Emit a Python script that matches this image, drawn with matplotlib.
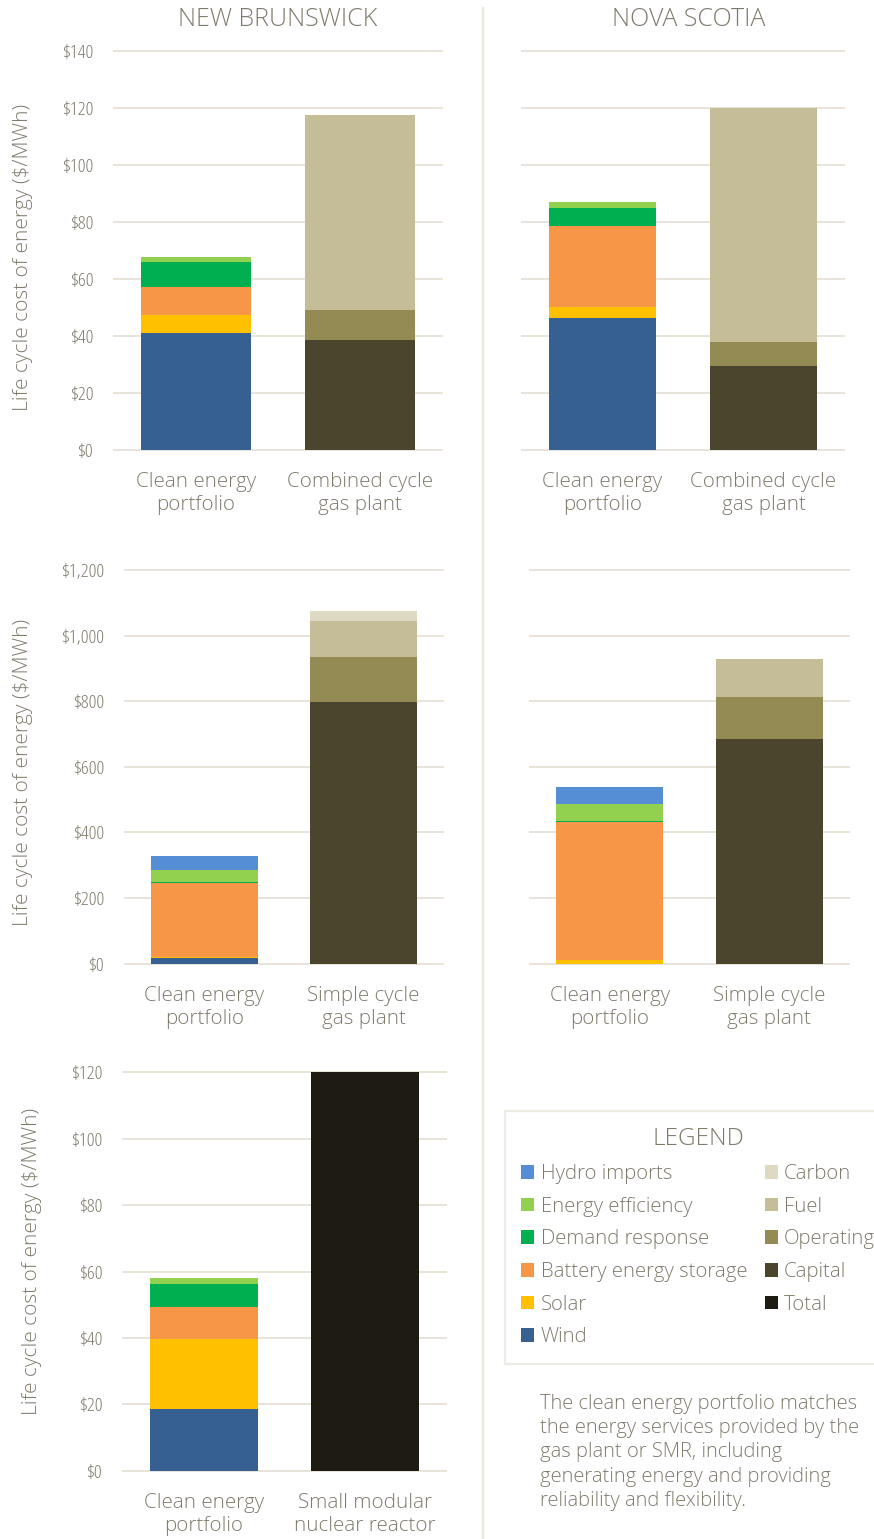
import matplotlib
matplotlib.use("Agg")
import matplotlib.pyplot as plt
from matplotlib.patches import Patch
from matplotlib.lines import Line2D

W, H = 874, 1539
plt.rcParams["font.family"] = ["Open Sans", "DejaVu Sans"]
plt.rcParams["font.weight"] = "light"

TEXT = "#7f7a6c"
GRID = "#e8e4da"

# Stack order, bottom to top
CLEAN_PARTS = ["Wind", "Solar", "Battery energy storage", "Demand response",
               "Energy efficiency", "Hydro imports"]
GAS_PARTS = ["Capital", "Operating", "Fuel", "Carbon"]

COLORS = {
    "Hydro imports": "#558ed5",
    "Energy efficiency": "#92d050",
    "Demand response": "#00b050",
    "Battery energy storage": "#f79646",
    "Solar": "#ffc000",
    "Wind": "#366092",
    "Carbon": "#ddd9c3",
    "Fuel": "#c4bd97",
    "Operating": "#948a54",
    "Capital": "#4a452c",
    "Total": "#1e1b12",
}

# Life cycle cost components, $/MWh (order as in CLEAN_PARTS / GAS_PARTS)
nb_cc_clean = [41.1, 6.2, 9.9, 8.7, 1.8, 0.0]
nb_cc_gas = [38.6, 10.5, 68.4, 0.0]
ns_cc_clean = [46.4, 3.8, 28.5, 6.3, 1.8, 0.0]
ns_cc_gas = [29.5, 8.4, 82.1, 0.0]
nb_sc_clean = [18, 2, 225, 4, 37, 42]
nb_sc_gas = [798, 137, 110, 30]
ns_sc_clean = [0, 12, 419, 4, 53, 52]
ns_sc_gas = [686, 128, 116, 0]
nb_smr_clean = [18.6, 21.1, 9.6, 7.0, 1.8, 0.0]
nb_smr_total = [120.0]

cc_labels = ["Clean energy\nportfolio", "Combined cycle\ngas plant"]
sc_labels = ["Clean energy\nportfolio", "Simple cycle\ngas plant"]
smr_labels = ["Clean energy\nportfolio", "Small modular\nnuclear reactor"]

cc_ticks = [0, 20, 40, 60, 80, 100, 120, 140]
sc_ticks = [0, 200, 400, 600, 800, 1000, 1200]
smr_ticks = [0, 20, 40, 60, 80, 100, 120]

YLABEL = "Life cycle cost of energy ($/MWh)"

fig = plt.figure(figsize=(W / 100, H / 100), dpi=100)
fig.patch.set_facecolor("white")


def px_axes(x0, y0, x1, y1):
    return fig.add_axes([x0 / W, 1 - y1 / H, (x1 - x0) / W, (y1 - y0) / H])


def stack(ax, xpos, values, names, width=0.67):
    bottom = 0.0
    for v, n in zip(values, names):
        if v > 0:
            ax.bar(xpos, v, width, bottom=bottom, color=COLORS[n],
                   linewidth=0, zorder=2)
        bottom += v


def style(ax, ticks, cats, show_y):
    ax.set_xlim(-0.5, 1.5)
    ax.set_ylim(0, ticks[-1])
    ax.set_yticks(ticks)
    if show_y:
        ax.set_yticklabels([f"${t:,}" for t in ticks], color=TEXT,
                           fontsize=14, fontstretch="condensed")
    else:
        ax.set_yticklabels([])
    ax.set_xticks([0, 1])
    ax.set_xticklabels(cats, color=TEXT, fontsize=14.8, linespacing=1.18)
    ax.tick_params(axis="both", length=0)
    ax.tick_params(axis="y", pad=15)
    ax.tick_params(axis="x", pad=16)
    ax.yaxis.grid(True, color=GRID, linewidth=1.4)
    for gl in ax.get_ygridlines():
        gl.set_clip_on(False)
    ax.set_axisbelow(True)
    for s in ax.spines.values():
        s.set_visible(False)


# Top row: combined cycle gas plant comparison
ax1 = px_axes(114, 50.7, 442, 450)
stack(ax1, 0, nb_cc_clean, CLEAN_PARTS)
stack(ax1, 1, nb_cc_gas, GAS_PARTS)
style(ax1, cc_ticks, cc_labels, True)

ax2 = px_axes(522, 50.7, 844, 450)
stack(ax2, 0, ns_cc_clean, CLEAN_PARTS)
stack(ax2, 1, ns_cc_gas, GAS_PARTS)
style(ax2, cc_ticks, cc_labels, False)

# Middle row: simple cycle gas plant comparison
ax3 = px_axes(125, 570, 443, 963.7)
stack(ax3, 0, nb_sc_clean, CLEAN_PARTS)
stack(ax3, 1, nb_sc_gas, GAS_PARTS)
style(ax3, sc_ticks, sc_labels, True)

ax4 = px_axes(530, 570, 849, 963.7)
stack(ax4, 0, ns_sc_clean, CLEAN_PARTS)
stack(ax4, 1, ns_sc_gas, GAS_PARTS)
style(ax4, sc_ticks, sc_labels, False)

# Bottom row: small modular reactor comparison
ax5 = px_axes(123, 1072.3, 446, 1470.7)
stack(ax5, 0, nb_smr_clean, CLEAN_PARTS)
stack(ax5, 1, nb_smr_total, ["Total"])
style(ax5, smr_ticks, smr_labels, True)

# Rotated axis titles
for xc, yc in [(23, 257), (23, 772), (32, 1261)]:
    fig.text(xc / W, 1 - yc / H, YLABEL, rotation=90, ha="center",
             va="center", color=TEXT, fontsize=15)

# Province headers
fig.text(278 / W, 1 - 19 / H, "NEW BRUNSWICK", ha="center", va="center",
         color=TEXT, fontsize=18)
fig.text(689 / W, 1 - 19 / H, "NOVA SCOTIA", ha="center", va="center",
         color=TEXT, fontsize=18)

# Column divider
fig.add_artist(Line2D([483 / W, 483 / W], [1 - 8 / H, 0],
                      transform=fig.transFigure, color="#ebe7df", lw=1.6))

# Legend
order = ["Hydro imports", "Energy efficiency", "Demand response",
         "Battery energy storage", "Solar", "Wind",
         "Carbon", "Fuel", "Operating", "Capital", "Total"]
handles = [Patch(facecolor=COLORS[n], edgecolor="none", label=n) for n in order]
leg = fig.legend(handles=handles, loc="upper left",
                 bbox_to_anchor=(505 / W, 1 - 1111 / H),
                 bbox_transform=fig.transFigure, borderaxespad=0,
                 ncol=2, fontsize=14.7, title="LEGEND", title_fontsize=17.5,
                 frameon=True, fancybox=False, shadow=False,
                 handlelength=0.64, handleheight=0.64, handletextpad=0.3,
                 labelspacing=0.62, columnspacing=0.85, borderpad=0.8,
                 labelcolor=TEXT)
leg.get_title().set_color(TEXT)
frame = leg.get_frame()
frame.set_edgecolor("#ebe7df")
frame.set_linewidth(1.6)
frame.set_facecolor("white")

fig.text(540 / W, 1 - 1394 / H,
         "The clean energy portfolio matches\n"
         "the energy services provided by the\n"
         "gas plant or SMR, including\n"
         "generating energy and providing\n"
         "reliability and flexibility.",
         ha="left", va="top", color=TEXT, fontsize=14.5, linespacing=1.28)

fig.savefig("out.png", dpi=100, facecolor="white")
